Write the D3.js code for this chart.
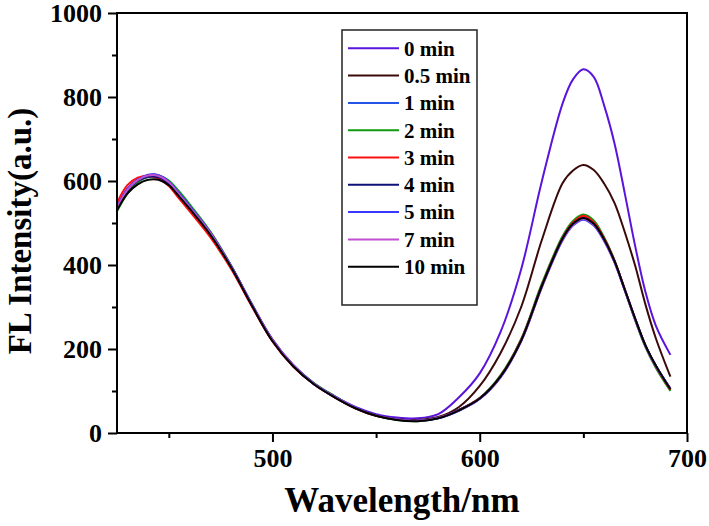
<!DOCTYPE html>
<html>
<head>
<meta charset="utf-8">
<script src="https://cdn.jsdelivr.net/npm/d3@7"></script>
<style>
  html, body { margin: 0; padding: 0; background: #fff; }
  svg { display: block; }
  text { font-family: "Liberation Serif", "Times New Roman", serif; font-weight: bold; fill: #000; }
</style>
</head>
<body>
<svg id="chart" width="709" height="526"></svg>
<script>
const wavelengths = [425,430,435,440,445,450,455,460,470,480,490,500,510,520,530,540,550,560,570,580,590,600,610,620,630,640,645,650,655,660,665,670,675,680,685,692];

const seriesNames = ["0 min","0.5 min","1 min","2 min","3 min","4 min","5 min","7 min","10 min"];
const seriesColors = ["#5a14dc","#3a0a0a","#2455e8","#119a11","#ff1010","#10107a","#3838ff","#c050d0","#000000"];

const s0min  = [540,582,604,615,614,598,570,540,476,398,307,223,162,118,87,62,45,37,35,45,85,142,240,390,600,785,842,866,848,780,690,570,445,335,255,186];
const s05min = [532,576,599,610,609,593,565,536,473,395,304,219,159,116,85,59,41,33,31,38,62,112,190,300,460,595,625,638,626,594,548,478,398,305,225,134];
const s1min  = [535,578,600,611,610,594,566,537,474,396,305,220,160,117,86,60,42,32,29,36,55,83,135,222,352,465,500,516,502,464,410,342,272,208,160,104];
const s2min  = [528,570,597,610,613,601,575,545,480,399,307,221,161,119,88,60,41,31,28,35,54,83,137,224,356,469,505,520,506,466,411,340,268,204,155,100];
const s3min  = [548,590,608,612,606,588,558,528,466,391,302,218,158,116,85,59,41,32,29,36,55,83,135,222,352,465,501,517,502,464,411,342,272,207,158,103];
const s4min  = [535,577,600,610,609,594,566,537,474,396,305,220,160,117,86,60,42,32,29,36,55,82,134,220,350,463,498,512,498,461,409,341,272,208,160,105];
const s5min  = [538,580,603,614,614,599,571,541,478,399,308,222,162,118,87,61,42,32,29,35,53,81,132,218,347,459,494,508,494,457,406,339,270,207,159,106];
const s7min  = [536,579,602,613,612,597,568,538,476,397,306,221,161,117,86,60,42,32,29,36,54,82,133,219,348,461,496,510,496,459,407,340,271,207,159,105];
const s10min = [530,570,592,603,603,590,563,534,472,395,304,219,159,116,85,59,41,31,28,35,54,82,134,220,350,463,498,512,498,461,409,341,272,208,160,104];

const seriesValues = [s0min,s05min,s1min,s2min,s3min,s4min,s5min,s7min,s10min];

const xMajorTicks = [500,600,700];
const xMinorTicks = [450,550,650];
const yMajorTicks = [0,200,400,600,800,1000];
const yMinorTicks = [100,300,500,700,900];

const xLabel = "Wavelength/nm";
const yLabel = "FL Intensity(a.u.)";

(function () {
const pL = 117, pR = 687, pT = 13, pB = 433;
const svg = d3.select("#chart");

const x = d3.scaleLinear().domain([425, 700]).range([pL, pR]);
const y = d3.scaleLinear().domain([0, 1000]).range([pB, pT]);

const line = d3.line()
  .x((d, i) => x(wavelengths[i]))
  .y(d => y(d))
  .curve(d3.curveCatmullRom.alpha(0.5));

const g = svg.append("g");
seriesValues.forEach((vals, k) => {
  g.append("path")
    .attr("d", line(vals))
    .attr("fill", "none")
    .attr("stroke", seriesColors[k])
    .attr("stroke-width", 2);
});

svg.append("rect")
  .attr("x", pL).attr("y", pT)
  .attr("width", pR - pL).attr("height", pB - pT)
  .attr("fill", "none").attr("stroke", "#000").attr("stroke-width", 2);

const xAxis = d3.axisBottom(x).tickValues(xMajorTicks).tickSize(9).tickSizeOuter(0).tickPadding(7).tickFormat(d3.format("d"));
const xa = svg.append("g").attr("transform", `translate(0,${pB})`).call(xAxis);
const xAxisMinor = d3.axisBottom(x).tickValues(xMinorTicks).tickSize(5).tickSizeOuter(0).tickFormat("");
const xm = svg.append("g").attr("transform", `translate(0,${pB})`).call(xAxisMinor);

const yAxis = d3.axisLeft(y).tickValues(yMajorTicks).tickSize(9).tickSizeOuter(0).tickPadding(6).tickFormat(d3.format("d"));
const ya = svg.append("g").attr("transform", `translate(${pL},0)`).call(yAxis);
const yAxisMinor = d3.axisLeft(y).tickValues(yMinorTicks).tickSize(5).tickSizeOuter(0).tickFormat("");
const ym = svg.append("g").attr("transform", `translate(${pL},0)`).call(yAxisMinor);

[xa, xm, ya, ym].forEach(a => {
  a.select(".domain").remove();
  a.selectAll(".tick line").attr("stroke", "#000").attr("stroke-width", 2);
  a.selectAll(".tick text")
    .style("font-family", "'Liberation Serif', 'Times New Roman', serif")
    .style("font-weight", "bold")
    .style("font-size", "26px")
    .attr("fill", "#000");
});

svg.append("text")
  .attr("x", 402)
  .attr("y", 512)
  .attr("text-anchor", "middle")
  .style("font-size", "35px")
  .text(xLabel);

svg.append("text")
  .attr("transform", `translate(31,231) rotate(-90)`)
  .attr("text-anchor", "middle")
  .style("font-size", "33px")
  .text(yLabel);

const lgX = 342, lgY = 30, lgW = 135, lgH = 275;
const leg = svg.append("g");
leg.append("rect")
  .attr("x", lgX).attr("y", lgY).attr("width", lgW).attr("height", lgH)
  .attr("fill", "#fff").attr("stroke", "#222").attr("stroke-width", 1.5);
seriesNames.forEach((name, k) => {
  const cy = 48.3 + k * 27.3;
  leg.append("line")
    .attr("x1", 348).attr("x2", 399)
    .attr("y1", cy).attr("y2", cy)
    .attr("stroke", seriesColors[k]).attr("stroke-width", 2);
  leg.append("text")
    .attr("x", 404).attr("y", cy)
    .attr("dy", "0.35em")
    .style("font-size", "21px")
    .text(name);
});
})();
</script>
</body>
</html>
